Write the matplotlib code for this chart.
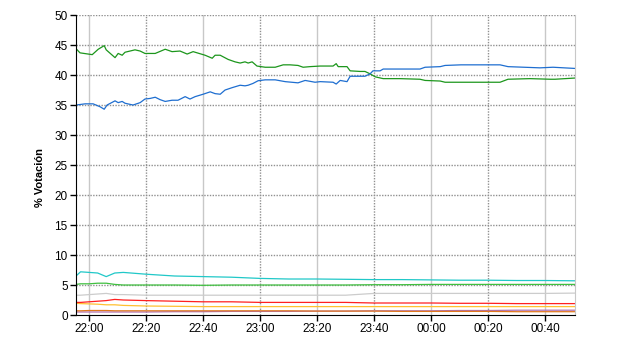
import matplotlib
matplotlib.use("Agg")
import matplotlib.pyplot as plt

plt.rcParams['font.family'] = ['Liberation Sans', 'DejaVu Sans']

# time in minutes after 22:00
tick_minutes = [0, 20, 40, 60, 80, 100, 120, 140, 160]
tick_labels = ["22:00", "22:20", "22:40", "23:00", "23:20", "23:40", "00:00", "00:20", "00:40"]

green_t = [-4.6, -3.2, 1.1, 3.2, 5.3, 6.0, 9.1, 10.2, 11.6, 12.6, 16.1, 17.9, 19.6, 23.2, 26.7,
           29.1, 31.9, 34.4, 36.5, 40.7, 43.2, 44.2, 46.0, 48.8, 51.2, 53.0, 54.7, 55.8, 57.2, 58.9,
           61.8, 65.3, 68.1, 70.5, 73.3, 75.1, 77.5, 81.1, 85.6, 86.7, 87.4, 90.5, 91.6, 95.1, 96.8,
           98.6, 100.4, 103.2, 109.1, 116.1, 117.9, 123.2, 124.9, 133.7, 144.2, 147.0, 154.7, 161.8,
           163.5, 170.5]
green_v = [44.4, 43.7, 43.4, 44.3, 44.9, 44.2, 42.9, 43.6, 43.3, 43.8, 44.2, 44.0, 43.6, 43.6, 44.3,
           43.9, 44.0, 43.5, 43.9, 43.3, 42.8, 43.3, 43.3, 42.6, 42.2, 42.0, 42.2, 42.0, 42.2, 41.5,
           41.3, 41.3, 41.7, 41.7, 41.6, 41.3, 41.4, 41.5, 41.5, 41.9, 41.4, 41.4, 40.7, 40.6, 40.6,
           40.2, 39.7, 39.4, 39.4, 39.3, 39.1, 39.0, 38.8, 38.8, 38.8, 39.3, 39.4, 39.3,
           39.3, 39.5]

blue_t = [-4.6, -1.4, 1.4, 3.9, 5.3, 6.3, 9.1, 10.2, 11.6, 12.6, 15.4, 17.9, 19.6, 21.4, 23.2,
          24.9, 26.7, 29.1, 31.2, 33.7, 35.4, 37.2, 40.0, 42.5, 44.2, 46.0, 47.7, 50.2, 53.0, 54.7,
          55.8, 57.5, 59.3, 61.8, 65.3, 68.8, 73.3, 75.8, 79.3, 81.1, 85.6, 86.7, 88.1, 90.5, 91.6,
          95.1, 96.8, 98.6, 99.6, 102.1, 103.2, 116.1, 117.9, 123.2, 124.9, 130.5, 144.2, 147.0,
          158.2, 162.8, 170.5]
blue_v = [35.0, 35.2, 35.2, 34.7, 34.3, 35.0, 35.7, 35.4, 35.6, 35.3, 35.0, 35.4, 36.0, 36.1, 36.3,
          35.9, 35.6, 35.8, 35.8, 36.4, 36.0, 36.4, 36.8, 37.2, 36.9, 36.8, 37.5, 37.9, 38.3, 38.2,
          38.3, 38.6, 39.05, 39.2, 39.2, 38.9, 38.7, 39.1, 38.8, 38.9, 38.8, 38.5, 39.1, 38.9, 39.8,
          39.8, 39.8, 40.2, 40.7, 40.7, 41.0, 41.0, 41.3, 41.4, 41.6, 41.7, 41.7, 41.4,
          41.2, 41.3, 41.1]

small_t = [-4.6, -3, 0, 3, 6, 9, 12, 20, 30, 40, 50, 60, 70, 80, 90, 100, 110, 120, 130, 140, 150, 160, 170.5]
cyan_v = [6.5, 7.2, 7.1, 7.0, 6.4, 7.0, 7.1, 6.8, 6.5, 6.4, 6.3, 6.1, 6.0, 6.0, 5.95, 5.9, 5.9, 5.85,
          5.8, 5.8, 5.75, 5.75, 5.7]
lgreen_v = [5.1, 5.2, 5.2, 5.3, 5.3, 5.1, 5.0, 5.0, 5.0, 4.95, 5.0, 5.0, 5.0, 5.0, 5.0, 5.05, 5.05,
            5.1, 5.1, 5.1, 5.1, 5.1, 5.1]
gray_v = [3.3, 3.3, 3.4, 3.5, 3.6, 3.4, 3.4, 3.3, 3.3, 3.3, 3.3, 3.3, 3.3, 3.3, 3.3, 3.6, 3.6, 3.6,
          3.6, 3.6, 3.6, 3.6, 3.65]
red_v = [2.1, 2.1, 2.2, 2.3, 2.4, 2.6, 2.5, 2.4, 2.3, 2.2, 2.2, 2.1, 2.1, 2.1, 2.1, 2.0, 2.0, 2.0,
         1.95, 1.95, 1.9, 1.9, 1.9]
yellow_v = [1.95, 1.9, 1.85, 1.8, 1.7, 1.7, 1.6, 1.5, 1.45, 1.4, 1.4, 1.4, 1.4, 1.4, 1.4, 1.4, 1.4,
            1.4, 1.4, 1.4, 1.4, 1.4, 1.4]
orange_v = [0.7, 0.7, 0.75, 0.75, 0.75, 0.7, 0.7, 0.7, 0.7, 0.7, 0.7, 0.7, 0.7, 0.65, 0.65, 0.65,
            0.6, 0.6, 0.6, 0.6, 0.55, 0.55, 0.55]
purple_v = [0.5, 0.5, 0.5, 0.5, 0.5, 0.5, 0.5, 0.5, 0.55, 0.55, 0.6, 0.6, 0.6, 0.65, 0.65, 0.7, 0.7,
            0.7, 0.75, 0.75, 0.8, 0.8, 0.8]

fig = plt.figure(figsize=(6.4, 3.5), dpi=100)
ax = fig.add_axes([0.11875, 0.1, 0.7797, 0.857])

# vertical grid: alternating solid light and dotted darker, as in the original
for i, m in enumerate(tick_minutes):
    if i % 2 == 0:
        ax.axvline(m, color="#c8c8c8", lw=1, zorder=0)
    else:
        ax.axvline(m, color="#909090", lw=1, ls=(0, (1, 1)), zorder=0)
for y in range(5, 51, 5):
    ax.axhline(y, color="#909090", lw=1, ls=(0, (1, 1)), zorder=0)

lw = 0.9
ax.plot(small_t, purple_v, color="#b070b0", lw=lw)
ax.plot(small_t, orange_v, color="#e07820", lw=lw)
ax.plot(small_t, yellow_v, color="#ffc030", lw=lw)
ax.plot(small_t, red_v, color="#ff2020", lw=lw)
ax.plot(small_t, gray_v, color="#cccccc", lw=lw)
ax.plot(small_t, lgreen_v, color="#40c040", lw=lw)
ax.plot(small_t, cyan_v, color="#20c8c8", lw=lw)
ax.plot(green_t, green_v, color="#1c961c", lw=lw)
ax.plot(blue_t, blue_v, color="#1e6ed0", lw=lw)

ax.set_xlim(-4.6, 170.5)
ax.set_ylim(0, 50)
ax.set_xticks(tick_minutes)
ax.set_xticklabels(tick_labels)
ax.set_yticks(range(0, 51, 5))
ax.tick_params(axis="both", labelsize=8.5, length=4, width=1, color="black", pad=2)
ax.set_ylabel("% Votación", fontsize=8, fontweight="bold")
ax.yaxis.set_label_coords(-0.062, 0.46)

ax.spines["top"].set_visible(False)
ax.spines["right"].set_color("#c8c8c8")
ax.spines["left"].set_color("black")
ax.spines["bottom"].set_color("black")

fig.savefig("out.png", dpi=100)
